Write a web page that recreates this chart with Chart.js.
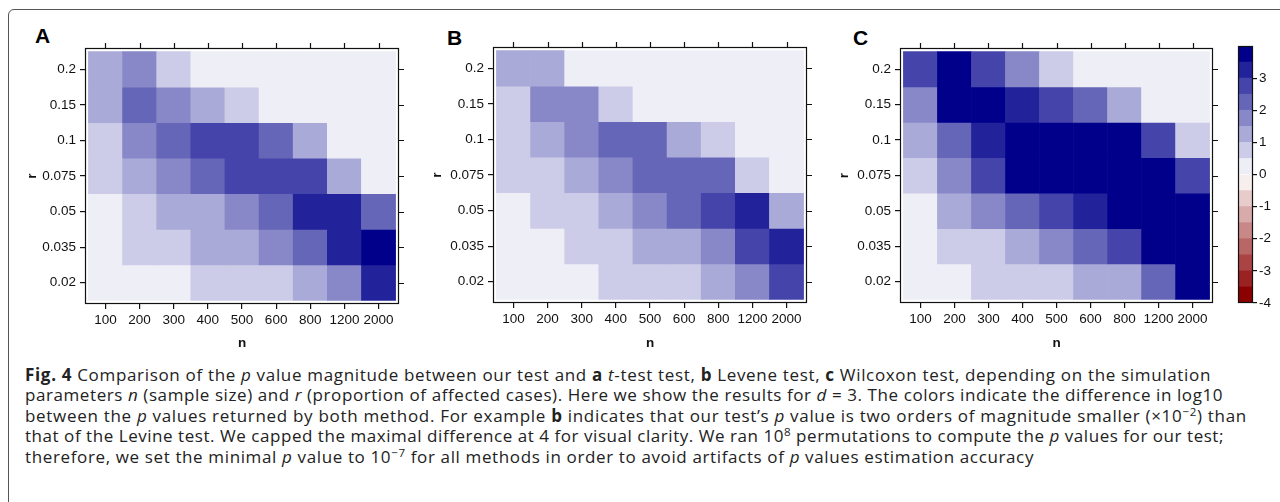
<!DOCTYPE html>
<html lang="en">
<head>
  <meta charset="UTF-8" />
  <title>Fig. 4 p value magnitude</title>
  <script src="https://cdn.jsdelivr.net/npm/chart.js"></script>
  <style>
    html, body { margin: 0; padding: 0; background: #fff; }
    body { width: 1280px; height: 502px; position: relative; overflow: hidden; }
    .frame { position: absolute; left: 8px; top: 9px; width: 1400px; height: 700px;
             border: 1px solid #555; border-radius: 6px; }
    canvas { position: absolute; top: 0; }
    .tag { position: absolute; font: bold 21px "Liberation Sans", Arial, sans-serif; line-height: 1; color: #000; }
    .caption { position: absolute; left: 25px; top: 365px; font-family: "Open Sans", "Noto Sans", sans-serif;
               font-size: 17px; line-height: 20.4px; color: #222; white-space: nowrap; }
    .caption > div { width: max-content; }
    .caption b { font-weight: bold; }
    .caption sup { font-size: 0.68em; line-height: 0; position: relative; top: -0.5em; vertical-align: baseline; }
  </style>
</head>
<body>
  <div class="frame"></div>

  <div class="tag" style="left:35px; top:25px;">A</div>
  <div class="tag" style="left:447px; top:27px;">B</div>
  <div class="tag" style="left:853px; top:27px;">C</div>

  <canvas id="panelA"></canvas>
  <canvas id="panelB"></canvas>
  <canvas id="panelC"></canvas>
  <canvas id="scaleBar"></canvas>

  <div class="caption">
    <div><b>Fig. 4</b> Comparison of the <i>p</i> value magnitude between our test and <b>a</b> <i>t</i>-test test, <b>b</b> Levene test, <b>c</b> Wilcoxon test, depending on the simulation</div>
    <div>parameters <i>n</i> (sample size) and <i>r</i> (proportion of affected cases). Here we show the results for <i>d</i> = 3. The colors indicate the difference in log10</div>
    <div>between the <i>p</i> values returned by both method. For example <b>b</b> indicates that our test’s <i>p</i> value is two orders of magnitude smaller (×10<sup>−2</sup>) than</div>
    <div>that of the Levine test. We capped the maximal difference at 4 for visual clarity. We ran 10<sup>8</sup> permutations to compute the <i>p</i> values for our test;</div>
    <div>therefore, we set the minimal <i>p</i> value to 10<sup>−7</sup> for all methods in order to avoid artifacts of <i>p</i> values estimation accuracy</div>
  </div>

  <script>
    // sample sizes (columns) and proportions (rows, top to bottom)
    const nLabels = ['100', '200', '300', '400', '500', '600', '800', '1200', '2000'];
    const rLabels = ['0.2', '0.15', '0.1', '0.075', '0.05', '0.035', '0.02'];

    // log10 difference of p values, capped at 4
    const tTestDiff = [
      [1.2, 1.8, 0.8, 0.3, 0.2, 0.2, 0.1, 0.1, 0.1],
      [1.2, 2.2, 1.8, 1.2, 0.8, 0.4, 0.3, 0.2, 0.1],
      [0.8, 1.8, 2.2, 2.7, 2.8, 2.3, 1.2, 0.4, 0.2],
      [0.8, 1.3, 1.8, 2.3, 2.7, 2.8, 2.6, 1.2, 0.4],
      [0.4, 0.8, 1.2, 1.3, 1.7, 2.2, 3.2, 3.3, 2.3],
      [0.2, 0.7, 0.8, 1.1, 1.3, 1.8, 2.3, 3.3, 3.8],
      [0.1, 0.2, 0.4, 0.6, 0.7, 0.8, 1.3, 1.7, 3.2]
    ];
    const leveneDiff = [
      [1.1, 1.2, 0.4, 0.3, 0.2, 0.1, 0.1, 0.1, 0.1],
      [0.8, 1.7, 1.8, 0.7, 0.4, 0.3, 0.2, 0.1, 0.1],
      [0.7, 1.2, 1.8, 2.2, 2.3, 1.3, 0.8, 0.4, 0.2],
      [0.6, 0.8, 1.2, 1.7, 2.2, 2.3, 2.2, 0.8, 0.4],
      [0.3, 0.6, 0.8, 1.2, 1.7, 2.2, 2.7, 3.2, 1.3],
      [0.1, 0.3, 0.6, 0.8, 1.2, 1.3, 1.8, 2.7, 3.2],
      [0.1, 0.2, 0.3, 0.6, 0.7, 0.8, 1.2, 1.8, 2.8]
    ];
    const wilcoxonDiff = [
      [2.7, 4.0, 2.8, 1.8, 0.8, 0.4, 0.3, 0.2, 0.1],
      [1.8, 4.0, 4.0, 3.2, 2.8, 2.3, 1.2, 0.4, 0.3],
      [1.2, 2.2, 3.3, 4.0, 4.0, 4.0, 4.0, 2.8, 0.8],
      [0.8, 1.8, 2.7, 4.0, 4.0, 4.0, 4.0, 4.0, 2.7],
      [0.4, 1.2, 1.8, 2.3, 2.7, 3.3, 4.0, 4.0, 4.0],
      [0.2, 0.8, 0.8, 1.2, 1.8, 2.2, 2.7, 4.0, 4.0],
      [0.1, 0.4, 0.7, 0.8, 0.8, 1.2, 1.3, 2.3, 4.0]
    ];

    // colour key: bin edges and labelled ticks
    const keyBreaks = [-4, -3.5, -3, -2.5, -2, -1.5, -1, -0.5, 0, 0.5, 1, 1.5, 2, 2.5, 3, 3.5, 4];
    const keyTicks = [-4, -3, -2, -1, 0, 1, 2, 3];

    const tickFont = { family: '"Liberation Sans", Arial, sans-serif', size: 13.5 };
    const titleFont = { family: '"Liberation Sans", Arial, sans-serif', size: 13.5, weight: 'bold' };

    // 8 steps of 0.5 between white and dark blue / dark red
    function cellColor(v) {
      const k = Math.min(8, Math.max(1, Math.ceil(Math.abs(v) / 0.5)));
      const s = 255 - 17 - 34 * (k - 1);
      const d = Math.round(139 + 116 * s / 255);
      return v >= 0 ? `rgb(${s},${s},${d})` : `rgb(${d},${s},${s})`;
    }

    // box outline plus tick marks on top and right
    const frameTicks = {
      id: 'frameTicks',
      afterDraw(chart, args, opts) {
        const { ctx, chartArea: a, scales } = chart;
        ctx.save();
        ctx.strokeStyle = '#111';
        ctx.lineWidth = 1.2;
        ctx.strokeRect(Math.round(a.left) + 0.5, Math.round(a.top) + 0.5,
                       Math.round(a.width) - 1, Math.round(a.height) - 1);
        if (opts.sides) {
          ctx.beginPath();
          scales.x.ticks.forEach(t => {
            const px = Math.round(scales.x.getPixelForValue(t.value)) + 0.5;
            ctx.moveTo(px, a.top); ctx.lineTo(px, a.top - 5);
          });
          scales.y.ticks.forEach(t => {
            const py = Math.round(scales.y.getPixelForValue(t.value)) + 0.5;
            ctx.moveTo(a.right, py); ctx.lineTo(a.right + 5, py);
          });
          ctx.stroke();
        }
        ctx.restore();
      }
    };

    function makePanel(id, values, box) {
      const H = 360;
      const canvas = document.getElementById(id);
      canvas.width = box.frameR - box.left + 20;
      canvas.height = H;
      canvas.style.left = box.left + 'px';

      const datasets = rLabels.map((r, i) => ({
        label: r,
        data: nLabels.map((n, j) => ({ x: j, y: [i - 0.5, i + 0.5] })),
        backgroundColor: values[i].map(cellColor),
        borderWidth: 0,
        grouped: false,
        barPercentage: 1,
        categoryPercentage: 1
      }));

      new Chart(canvas, {
        type: 'bar',
        data: { datasets },
        plugins: [frameTicks],
        options: {
          responsive: false,
          animation: false,
          devicePixelRatio: 1,
          layout: { padding: { left: 0, top: box.frameT, right: 20, bottom: 0 } },
          plugins: { legend: { display: false }, tooltip: { enabled: false }, frameTicks: { sides: true } },
          scales: {
            x: {
              type: 'linear', offset: false, bounds: 'data',
              min: -0.6, max: nLabels.length - 0.4,
              afterBuildTicks: ax => { ax.ticks = nLabels.map((n, j) => ({ value: j })); },
              afterFit: ax => { ax.height = H - box.frameB; },
              ticks: { callback: v => nLabels[v], font: tickFont, color: '#111', padding: 3, maxRotation: 0, autoSkip: false },
              grid: { drawOnChartArea: false, tickLength: 5, color: '#111', lineWidth: 1.2, offset: false },
              border: { display: false },
              title: { display: true, text: 'n', font: titleFont, color: '#111', padding: { top: 0, bottom: H - 343 - 8 } }
            },
            y: {
              type: 'linear', reverse: true, bounds: 'data',
              min: -0.6, max: rLabels.length - 0.4,
              afterBuildTicks: ax => { ax.ticks = rLabels.map((r, i) => ({ value: i })); },
              afterFit: ax => { ax.width = box.frameL - box.left; },
              ticks: { callback: v => rLabels[v], font: tickFont, color: '#111', padding: 4, autoSkip: false },
              grid: { drawOnChartArea: false, tickLength: 5, color: '#111', lineWidth: 1.2 },
              border: { display: false },
              title: { display: true, text: 'r', font: titleFont, color: '#111', padding: { top: box.rX - box.left - 8, bottom: 0 } }
            }
          }
        }
      });
    }

    makePanel('panelA', tTestDiff,    { left: 0,   frameL: 85,  frameR: 399,  frameT: 48, frameB: 304, rX: 32 });
    makePanel('panelB', leveneDiff,   { left: 408, frameL: 493, frameR: 807,  frameT: 47, frameB: 303, rX: 437 });
    makePanel('panelC', wilcoxonDiff, { left: 815, frameL: 900, frameR: 1213, frameT: 48, frameB: 303, rX: 844 });

    // colour key on the right
    const keyCanvas = document.getElementById('scaleBar');
    keyCanvas.width = 60;
    keyCanvas.height = 290;
    keyCanvas.style.left = '1220px';
    keyCanvas.style.top = '30px';

    const keyDatasets = keyBreaks.slice(0, -1).map((lo, i) => ({
      data: [[lo, keyBreaks[i + 1]]],
      backgroundColor: cellColor((lo + keyBreaks[i + 1]) / 2),
      borderWidth: 0,
      grouped: false,
      barPercentage: 1,
      categoryPercentage: 1
    }));

    new Chart(keyCanvas, {
      type: 'bar',
      data: { labels: [''], datasets: keyDatasets },
      plugins: [frameTicks],
      options: {
        responsive: false,
        animation: false,
        devicePixelRatio: 1,
        layout: { padding: { left: 18, top: 16, right: 0, bottom: 17 } },
        plugins: { legend: { display: false }, tooltip: { enabled: false }, frameTicks: { sides: false } },
        scales: {
          x: { display: false },
          y: {
            position: 'right', min: -4, max: 4,
            afterBuildTicks: ax => { ax.ticks = keyTicks.map(v => ({ value: v })); },
            afterFit: ax => { ax.width = 27; },
            ticks: { font: tickFont, color: '#111', padding: 2, callback: v => String(v) },
            grid: { drawOnChartArea: false, tickLength: 4, color: '#111', lineWidth: 1.2 },
            border: { display: false }
          }
        }
      }
    });

    // stretch each caption line so its right end lands where the printed one does
    const captionEnds = [1211, 1223, 1247, 1224, 1034];
    document.querySelectorAll('.caption > div').forEach((line, i) => {
      const natural = line.getBoundingClientRect().width;
      const chars = line.textContent.length;
      line.style.letterSpacing = ((captionEnds[i] - 25 - natural) / chars).toFixed(3) + 'px';
    });
  </script>
</body>
</html>
